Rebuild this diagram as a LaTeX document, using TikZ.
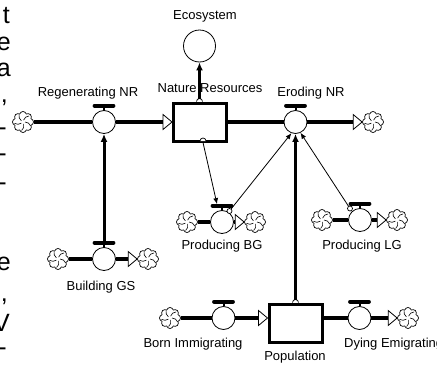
\documentclass[tikz,border=0pt]{standalone}
\usepackage{fontspec}
\setmainfont{Liberation Sans}
\usetikzlibrary{shapes.symbols,arrows.meta,calc}
\tikzset{
  valve/.style={circle,draw,line width=0.8pt,fill=white,minimum size=23pt,inner sep=0pt},
  stock/.style={rectangle,draw,line width=3pt,fill=white,minimum width=53pt,minimum height=38pt,inner sep=0pt},
  sink/.style={cloud,cloud puffs=8,draw,line width=0.7pt,fill=white,minimum width=21pt,minimum height=21pt,inner sep=0pt,aspect=1,
    path picture={\foreach \a in {0,72,144,216,288}{\draw[line width=0.6pt] ($(path picture bounding box.center)+(\a:2pt)$) arc[start angle=\a+90,end angle=\a+20,radius=6pt];}}},
  aux/.style={circle,draw,line width=0.8pt,minimum size=32pt,inner sep=0pt},
  origin/.style={circle,draw,line width=0.7pt,fill=white,minimum size=5pt,inner sep=0pt},
  pipe/.style={line width=4.5pt},
  lbl/.style={font=\fontsize{13}{15}\selectfont,inner sep=0pt},
  thickconn/.style={line width=3pt,-{Latex[length=8pt,width=7pt]}},
  thinconn/.style={line width=0.8pt,-{Latex[length=6pt,width=5pt]}},
  tipstyle/.style={line width=0.8pt,fill=white},
  frag/.style={font=\fontsize{25}{25}\selectfont,inner sep=0pt,anchor=base east}
}
\newcommand\valvetop[1]{%
  \draw[line width=2pt] (#1.north) -- ([shift={(0,-4)}]#1.north);
  \draw[line width=3.8pt,line cap=round] ([shift={(-9.5,-4.5)}]#1.north) -- ([shift={(9.5,-4.5)}]#1.north);}
\newcommand\opentip[1]{%
  \draw[tipstyle] (#1) -- ++(-9,-7.5) -- ++(0,15) -- cycle;}
\begin{document}
\begin{tikzpicture}[x=1pt,y=-1pt]
\useasboundingbox (0,0) rectangle (437,367);
\clip (0,0) rectangle (437,367);

% left margin text fragments
\node[frag] (f1) at (10,23) {t};
\node[frag] (f2) at (11,50) {e};
\node[frag] (f3) at (11,76) {a};
\node[frag] (f4) at (8,102) {,};
\node[frag] (f5) at (7,135) {-};
\node[frag] (f6) at (7,161) {-};
\node[frag] (f7) at (7,190) {-};
\node[frag] (f8) at (11,270) {e};
\node[frag] (f9) at (8,301) {,};
\node[frag] (f10) at (10,331) {V};
\node[frag] (f11) at (7,355) {-};

% stocks and auxiliary
\node[aux] (eco) at (199.5,46) {};
\node[stock] (nr) at (200,122) {};
\node[stock] (pop) at (295.5,323) {};

% valves
\node[valve] (regV) at (104,122) {};
\node[valve] (eroV) at (295.5,122) {};
\node[valve] (buildV) at (104,259) {};
\node[valve] (pbgV) at (222,222) {};
\node[valve] (plgV) at (360,220) {};
\node[valve] (bornV) at (223.5,318) {};
\node[valve] (dyV) at (359.5,318) {};

% clouds
\node[sink] (c1) at (23,122) {};
\node[sink] (c2) at (373,122) {};
\node[sink] (cb1) at (58,259) {};
\node[sink] (cb2) at (148,259) {};
\node[sink] (cp1) at (187,222) {};
\node[sink] (cp2) at (255,222) {};
\node[sink] (cl1) at (322,220) {};
\node[sink] (cl2) at (397,220) {};
\node[sink] (cbi) at (170,318) {};
\node[sink] (cdy) at (408,318) {};

% pipes: Nature Resources
\draw[pipe] (c1.east) -- (regV.west);
\draw[pipe] (regV.east) -- ([shift={(-9,0)}]nr.west);
\opentip{nr.west}
\draw[pipe] (nr.east) -- (eroV.west);
\draw[pipe] (eroV.east) -- ([shift={(-9,0)}]c2.west);
\opentip{c2.west}
% Building GS
\draw[pipe] (cb1.east) -- (buildV.west);
\draw[pipe] (buildV.east) -- ([shift={(-9,0)}]cb2.west);
\opentip{cb2.west}
% Producing BG
\draw[pipe] (cp1.east) -- (pbgV.west);
\draw[pipe] (pbgV.east) -- ([shift={(-9,0)}]cp2.west);
\opentip{cp2.west}
% Producing LG
\draw[pipe] (cl1.east) -- (plgV.west);
\draw[pipe] (plgV.east) -- ([shift={(-9,0)}]cl2.west);
\opentip{cl2.west}
% Population
\coordinate (popIn) at (bornV.east -| pop.west);
\coordinate (popOut) at (dyV.west -| pop.east);
\draw[pipe] (cbi.east) -- (bornV.west);
\draw[pipe] (bornV.east) -- ([shift={(-9,0)}]popIn);
\opentip{popIn}
\draw[pipe] (popOut) -- (dyV.west);
\draw[pipe] (dyV.east) -- ([shift={(-9,0)}]cdy.west);
\opentip{cdy.west}

% valve bars
\valvetop{regV}
\valvetop{eroV}
\valvetop{buildV}
\valvetop{pbgV}
\valvetop{plgV}
\valvetop{bornV}
\valvetop{dyV}

% connector origins
\coordinate (nrT) at ([shift={(-0.5,0)}]nr.north);
\coordinate (nrB) at ([shift={(3,0)}]nr.south);
\coordinate (popT) at (pop.north);
\draw[line width=0.7pt,fill=white] ([shift={(-3,0)}]nrT) arc[start angle=180,end angle=360,radius=3];
\draw[line width=0.7pt,fill=white] ([shift={(-3,-1.5)}]nrB) arc[start angle=180,end angle=360,radius=3];
\draw[line width=0.7pt,fill=white] ([shift={(-3,0)}]popT) arc[start angle=180,end angle=360,radius=3];
\node[origin] (pbgO) at (229.5,211) {};
\node[origin] (plgO) at (350,208.5) {};

% connectors
\draw[thickconn] ([shift={(0,-3)}]nrT) -- (eco.south);
\draw[thickconn] ([shift={(0,-6)}]buildV.north) -- (regV.south);
\draw[thickconn] ([shift={(0,-3)}]popT) -- (eroV.south);
\draw[thinconn] (nrB) -- ([shift={(-5,-6)}]pbgV.north);
\draw[thinconn] (pbgO) -- (eroV.250);
\draw[thinconn] (plgO) -- (eroV.295);

% labels
\node[lbl] (ecoL) at (205,16) {Ecosystem};
\node[lbl] (nrL) at (210,88) {Nature Resources};
\node[lbl] (regL) at (88,93) {Regenerating NR};
\node[lbl] (eroL) at (311,93) {Eroding NR};
\node[lbl] (buildL) at (101,287) {Building GS};
\node[lbl] (pbgL) at (222,246) {Producing BG};
\node[lbl] (plgL) at (362,246) {Producing LG};
\node[lbl] (bornL) at (193,344) {Born Immigrating};
\node[lbl] (popL) at (295,357) {Population};
\node[lbl,anchor=west] (dyL) at (344,344) {Dying Emigrating};
\end{tikzpicture}
\end{document}
